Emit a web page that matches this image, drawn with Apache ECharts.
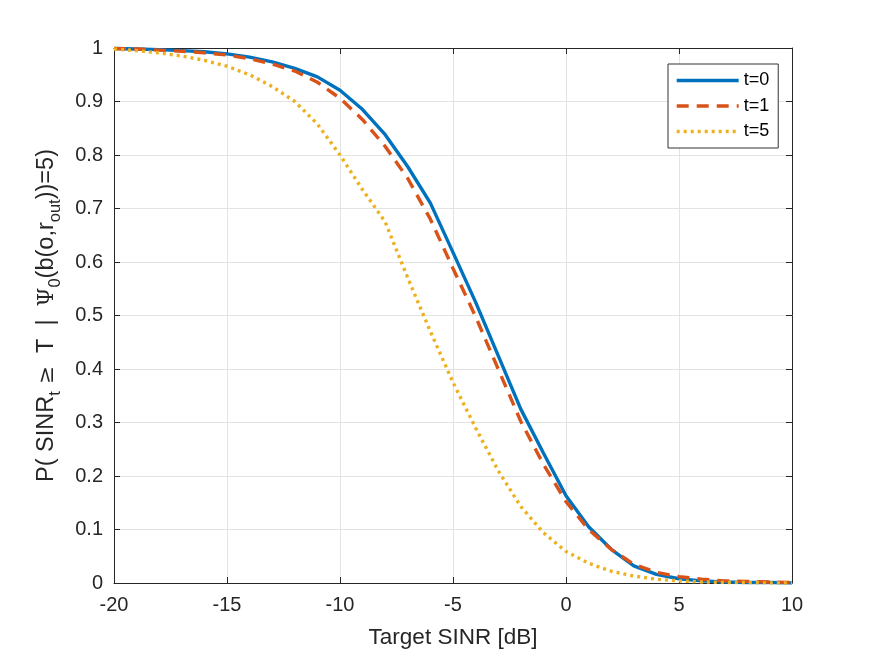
<!DOCTYPE html>
<html>
<head>
<meta charset="utf-8">
<script src="https://cdn.jsdelivr.net/npm/echarts@6/dist/echarts.min.js"></script>
<style>
  html, body { margin: 0; padding: 0; background: #fff; }
  #chart { width: 875px; height: 657px; }
</style>
</head>
<body>
<div id="chart"></div>
<script>
// 横轴：目标 SINR (dB)
var snrDb = [-20, -19, -18, -17, -16, -15, -14, -13, -12, -11, -10, -9, -8, -7, -6, -5,
  -4, -3, -2, -1, 0, 1, 2, 3, 4, 5, 6, 7, 8, 9, 10];

// 三条曲线，从图上读出的数值
var probT0 = [0.999, 0.998, 0.997, 0.995, 0.993, 0.989, 0.983, 0.974, 0.962, 0.946, 0.921,
  0.885, 0.838, 0.778, 0.710, 0.618, 0.525, 0.425, 0.325, 0.243, 0.163, 0.105, 0.063,
  0.032, 0.016, 0.008, 0.004, 0.002, 0.001, 0.001, 0.000];
var probT1 = [0.999, 0.998, 0.996, 0.994, 0.991, 0.987, 0.980, 0.970, 0.957, 0.936, 0.906,
  0.866, 0.816, 0.756, 0.680, 0.588, 0.498, 0.400, 0.302, 0.222, 0.152, 0.100, 0.063,
  0.035, 0.020, 0.012, 0.007, 0.004, 0.003, 0.002, 0.001];
var probT5 = [0.998, 0.995, 0.991, 0.985, 0.977, 0.966, 0.950, 0.928, 0.900, 0.858, 0.800,
  0.735, 0.675, 0.570, 0.470, 0.375, 0.290, 0.210, 0.143, 0.094, 0.059, 0.037, 0.022,
  0.013, 0.007, 0.004, 0.002, 0.001, 0.001, 0.000, 0.000];

var seriesNames = ['t=0', 't=1', 't=5'];

function pairs(ys) {
  var out = [];
  for (var i = 0; i < snrDb.length; i++) {
    out.push([snrDb[i], ys[i]]);
  }
  return out;
}

var axisColor = '#262626';
var fontFam = '"Liberation Sans", Arial, sans-serif';

var myChart = echarts.init(document.getElementById('chart'));

var option = {
  backgroundColor: '#fff',
  animation: false,
  grid: { left: 114, right: 83, top: 48, bottom: 74 },
  legend: {
    data: seriesNames,
    orient: 'vertical',
    left: 668,
    top: 64,
    padding: [7.5, 9, 7.5, 7],
    itemGap: 7.5,
    itemWidth: 62,
    itemHeight: 14,
    backgroundColor: '#fff',
    borderColor: '#333',
    borderWidth: 1,
    borderRadius: 0,
    itemStyle: { opacity: 0 },
    lineStyle: { width: 3.4 },
    textStyle: { fontFamily: fontFam, fontSize: 18, color: '#000' }
  },
  xAxis: [
    {
      type: 'value',
      min: -20, max: 10, interval: 5,
      name: 'Target SINR [dB]',
      nameLocation: 'middle',
      nameGap: 43,
      nameTextStyle: { fontFamily: fontFam, fontSize: 22.5, color: '#262626' },
      axisLine: { show: true, onZero: false, lineStyle: { color: axisColor, width: 1 } },
      axisTick: { show: true, inside: true, length: 6, lineStyle: { color: axisColor } },
      axisLabel: { fontFamily: fontFam, fontSize: 20, color: '#262626', margin: 12 },
      splitLine: { show: true, lineStyle: { color: '#e3e3e3', width: 1 } }
    },
    {
      type: 'value', position: 'top',
      min: -20, max: 10, interval: 5,
      axisLine: { show: true, onZero: false, lineStyle: { color: axisColor, width: 1 } },
      axisTick: { show: true, inside: true, length: 6, lineStyle: { color: axisColor } },
      axisLabel: { show: false },
      splitLine: { show: false }
    }
  ],
  yAxis: [
    {
      type: 'value',
      min: 0, max: 1, interval: 0.1,
      name: '{n|P( SINR}{s|t}{m| ≥ }{n| T  |  }{g|Ψ}{s|0}{n|(b(o,r}{s|out}{n|))=5)}',
      nameLocation: 'middle',
      nameRotate: 90,
      nameGap: 50,
      nameTextStyle: {
        color: '#262626',
        rich: {
          n: { fontFamily: fontFam, fontSize: 23.5, lineHeight: 34, verticalAlign: 'middle', color: '#262626' },
          m: { fontFamily: '"DejaVu Serif", serif', fontSize: 21.5, lineHeight: 34, verticalAlign: 'middle', color: '#262626' },
          g: { fontFamily: '"DejaVu Serif", serif', fontSize: 21.5, lineHeight: 34, verticalAlign: 'middle', color: '#262626' },
          s: { fontFamily: fontFam, fontSize: 16.5, lineHeight: 16, verticalAlign: 'bottom', color: '#262626' }
        }
      },
      axisLine: { show: true, onZero: false, lineStyle: { color: axisColor, width: 1 } },
      axisTick: { show: true, inside: true, length: 6, lineStyle: { color: axisColor } },
      axisLabel: {
        fontFamily: fontFam, fontSize: 20, color: '#262626', margin: 11,
        formatter: function (v) { return String(Math.round(v * 10) / 10); }
      },
      splitLine: { show: true, lineStyle: { color: '#e3e3e3', width: 1 } }
    },
    {
      type: 'value', position: 'right',
      min: 0, max: 1, interval: 0.1,
      axisLine: { show: true, onZero: false, lineStyle: { color: axisColor, width: 1 } },
      axisTick: { show: true, inside: true, length: 6, lineStyle: { color: axisColor } },
      axisLabel: { show: false },
      splitLine: { show: false }
    }
  ],
  series: [
    {
      name: seriesNames[0], type: 'line', symbol: 'none',
      data: pairs(probT0),
      lineStyle: { color: '#0072BD', width: 3.4, type: 'solid' },
      itemStyle: { color: '#0072BD' },
      z: 3
    },
    {
      name: seriesNames[1], type: 'line', symbol: 'none',
      data: pairs(probT1),
      lineStyle: { color: '#D95319', width: 3.4, type: [12, 8] },
      itemStyle: { color: '#D95319' },
      z: 4
    },
    {
      name: seriesNames[2], type: 'line', symbol: 'none',
      data: pairs(probT5),
      lineStyle: { color: '#EDB120', width: 3.4, type: [3, 4] },
      itemStyle: { color: '#EDB120' },
      z: 5
    }
  ]
};

myChart.setOption(option);
</script>
</body>
</html>
